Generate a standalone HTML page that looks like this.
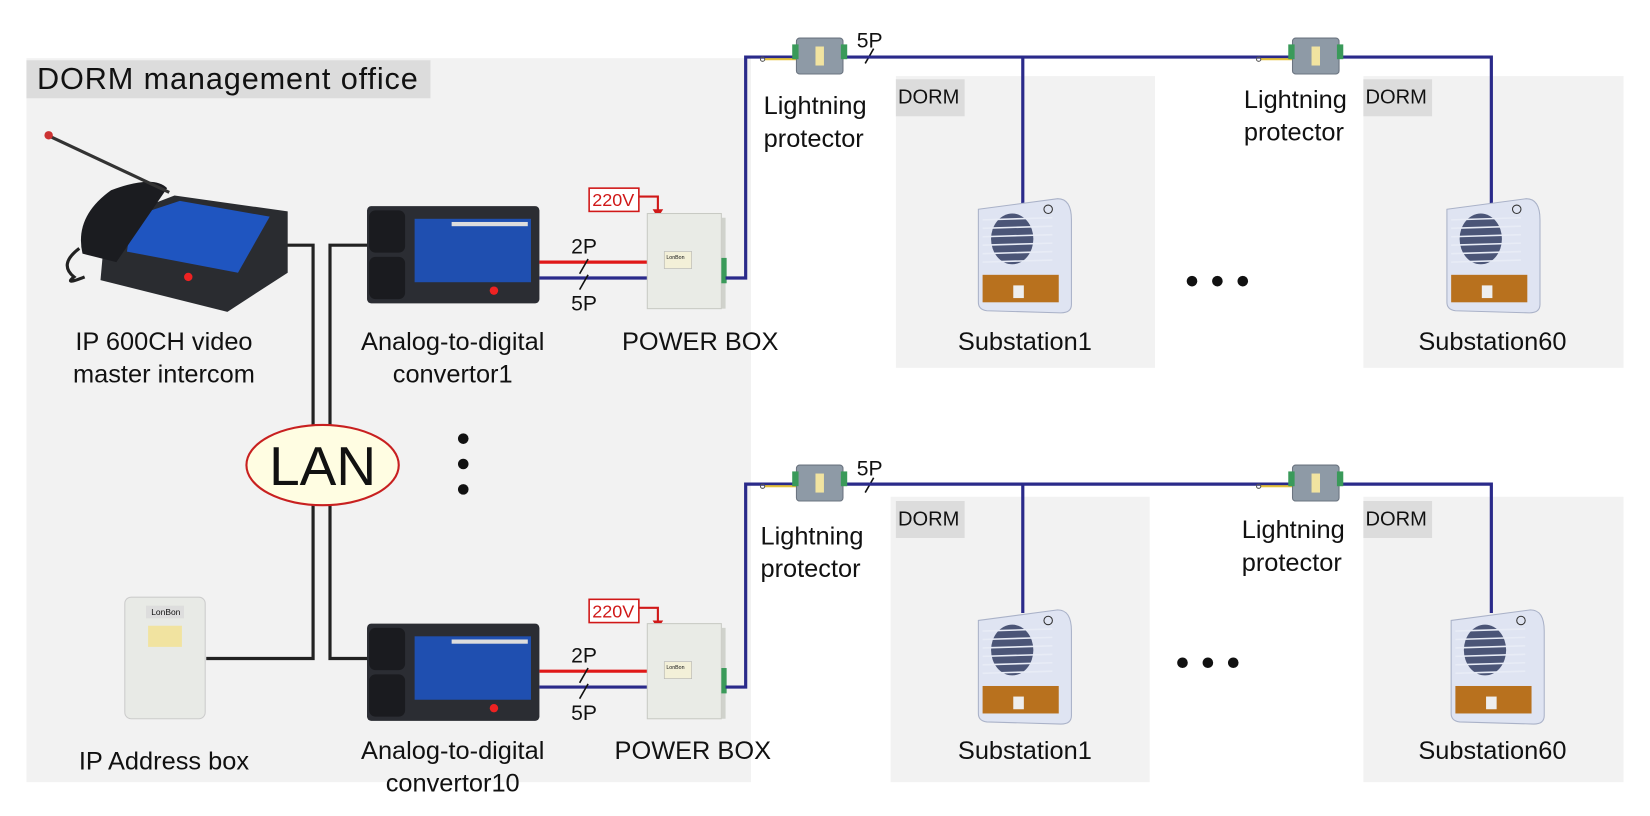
<!DOCTYPE html>
<html><head><meta charset="utf-8"><style>
html,body{margin:0;padding:0;background:#fff;}
svg{display:block;}
text{font-family:"Liberation Sans",Arial,sans-serif;fill:#111;}
</style></head><body>
<svg width="1650" height="816" viewBox="0 0 1560 772" preserveAspectRatio="none" xmlns="http://www.w3.org/2000/svg">
<defs>
<g id="conv">
  <rect x="0" y="0" width="163" height="92" rx="4" fill="#2b2d33"/>
  <rect x="2" y="4" width="34" height="40" rx="6" fill="#1a1b1f"/>
  <rect x="2" y="48" width="34" height="40" rx="6" fill="#1a1b1f"/>
  <rect x="45" y="12" width="110" height="60" fill="#1f4fb0"/>
  <rect x="80" y="15" width="72" height="4" fill="#ddd"/>
  <circle cx="120" cy="80" r="4" fill="#e22"/>
</g>
<g id="pbox">
  <rect x="0" y="0" width="70" height="90" fill="#e9ebe6" stroke="#c8cac4"/>
  <rect x="70" y="4" width="4" height="86" fill="#d0d2cc"/>
  <rect x="16" y="36" width="26" height="16" fill="#f3f0d8" stroke="#aaa" stroke-width="0.5"/>
  <text x="18" y="43" font-size="5">LonBon</text>
  <rect x="70" y="42" width="5" height="24" fill="#3a9a5a"/>
</g>
<g id="lp">
  <rect x="-30" y="-1" width="30" height="2" fill="#e6c23a"/>
  <circle cx="-32" cy="0" r="2" fill="none" stroke="#555"/>
  <rect x="0" y="-20" width="44" height="34" rx="3" fill="#8e9aa6" stroke="#6b7480"/>
  <rect x="-4" y="-14" width="6" height="14" fill="#3a9a5a"/>
  <rect x="42" y="-14" width="6" height="14" fill="#3a9a5a"/>
  <rect x="18" y="-12" width="8" height="18" fill="#f1e3a0"/>
</g>
<g id="sub">
  <path d="M0 10 L75 0 Q88 0 88 20 L88 100 Q88 108 78 108 L8 106 Q0 105 0 98 Z" fill="#dfe4f2" stroke="#aab2c8"/>
  <ellipse cx="32" cy="38" rx="20" ry="24" fill="#4b5577"/>
  <g stroke="#e8ecf6" stroke-width="1.5">
   <line x1="4" y1="20" x2="70" y2="18"/><line x1="4" y1="28" x2="70" y2="26"/><line x1="4" y1="36" x2="70" y2="34"/><line x1="4" y1="44" x2="70" y2="42"/><line x1="4" y1="52" x2="70" y2="50"/><line x1="4" y1="60" x2="70" y2="58"/>
  </g>
  <rect x="4" y="72" width="72" height="26" fill="#b8711e"/>
  <rect x="33" y="82" width="10" height="12" fill="#eee"/>
  <circle cx="66" cy="10" r="4" fill="none" stroke="#333"/>
</g>
</defs>

<rect x="25" y="55" width="685" height="685" fill="#f2f2f2"/>
<rect x="25" y="57" width="382" height="36" fill="#dcdcdc"/>
<text x="35" y="84" font-size="29" textLength="360">DORM management office</text>

<rect x="847" y="72" width="245" height="276" fill="#f2f2f2"/>
<rect x="1289" y="72" width="246" height="276" fill="#f2f2f2"/>
<rect x="842" y="470" width="245" height="270" fill="#f2f2f2"/>
<rect x="1289" y="470" width="246" height="270" fill="#f2f2f2"/>
<g font-size="19">
<rect x="847" y="75" width="65" height="35" fill="#dcdcdc"/><text x="849" y="98">DORM</text>
<rect x="1289" y="75" width="65" height="35" fill="#dcdcdc"/><text x="1291" y="98">DORM</text>
<rect x="847" y="474" width="65" height="35" fill="#dcdcdc"/><text x="849" y="497">DORM</text>
<rect x="1289" y="474" width="65" height="35" fill="#dcdcdc"/><text x="1291" y="497">DORM</text>
</g>

<g stroke="#222" stroke-width="3" fill="none">
<polyline points="270,232 296,232 296,623 195,623"/>
<polyline points="350,232 312,232 312,623 350,623"/>
</g>
<ellipse cx="305" cy="440" rx="72" ry="38" fill="#fffde2" stroke="#c82020" stroke-width="2"/>
<text x="305" y="459" font-size="52" text-anchor="middle">LAN</text>
<circle cx="438" cy="415" r="5" fill="#111"/><circle cx="438" cy="439" r="5" fill="#111"/><circle cx="438" cy="463" r="5" fill="#111"/>

<!-- master intercom -->
<path d="M100 210 L165 185 L272 200 L272 258 L215 295 L95 265 Z" fill="#2a2c30"/>
<path d="M125 205 L170 190 L255 205 L225 258 L120 238 Z" fill="#1f55c0"/>
<path d="M78 240 Q70 205 105 180 Q145 165 158 178 L110 248 Z" fill="#1b1c20"/>
<path d="M75 235 Q55 250 70 262 Q60 270 80 262" fill="none" stroke="#222" stroke-width="3"/>
<line x1="45" y1="128" x2="160" y2="182" stroke="#333" stroke-width="3"/>
<circle cx="46" cy="128" r="4" fill="#c33"/>
<circle cx="178" cy="262" r="4" fill="#e22"/>
<text x="155" y="331" font-size="24" text-anchor="middle">IP 600CH video</text>
<text x="155" y="362" font-size="24" text-anchor="middle">master intercom</text>

<rect x="118" y="565" width="76" height="115" rx="6" fill="#e8eae6" stroke="#ccc"/>
<rect x="138" y="573" width="36" height="12" fill="#ddd"/>
<text x="143" y="582" font-size="8">LonBon</text>
<rect x="140" y="592" width="32" height="20" fill="#f1e3a0"/>
<text x="155" y="728" font-size="24" text-anchor="middle">IP Address box</text>

<use href="#conv" x="347" y="195"/>
<use href="#conv" x="347" y="590"/>
<text x="428" y="331" font-size="24" text-anchor="middle">Analog-to-digital</text>
<text x="428" y="362" font-size="24" text-anchor="middle">convertor1</text>
<text x="428" y="718" font-size="24" text-anchor="middle">Analog-to-digital</text>
<text x="428" y="749" font-size="24" text-anchor="middle">convertor10</text>

<g stroke-width="3" fill="none">
<line x1="510" y1="248" x2="612" y2="248" stroke="#e01818"/>
<line x1="510" y1="263" x2="612" y2="263" stroke="#2a2a8a"/>
<line x1="510" y1="635" x2="612" y2="635" stroke="#e01818"/>
<line x1="510" y1="650" x2="612" y2="650" stroke="#2a2a8a"/>
</g>
<g stroke="#111" stroke-width="1.5">
<line x1="548" y1="259" x2="556" y2="245"/><line x1="548" y1="274" x2="556" y2="260"/>
<line x1="548" y1="646" x2="556" y2="632"/><line x1="548" y1="661" x2="556" y2="647"/>
<line x1="818" y1="60" x2="826" y2="46"/><line x1="818" y1="466" x2="826" y2="452"/>
</g>
<g font-size="20">
<text x="540" y="240">2P</text><text x="540" y="294">5P</text>
<text x="540" y="627">2P</text><text x="540" y="681">5P</text>
<text x="810" y="45">5P</text><text x="810" y="450">5P</text>
</g>
<g>
<rect x="557" y="178" width="47" height="22" fill="#fff" stroke="#d01818" stroke-width="1.5"/>
<text x="560" y="195" font-size="17" style="fill:#d01818">220V</text>
<polyline points="604,186 622,186 622,200" fill="none" stroke="#d01818" stroke-width="2"/>
<polygon points="617,198 627,198 622,206" fill="#d01818"/>
<rect x="557" y="567" width="47" height="22" fill="#fff" stroke="#d01818" stroke-width="1.5"/>
<text x="560" y="584" font-size="17" style="fill:#d01818">220V</text>
<polyline points="604,575 622,575 622,589" fill="none" stroke="#d01818" stroke-width="2"/>
<polygon points="617,587 627,587 622,595" fill="#d01818"/>
</g>
<use href="#pbox" x="612" y="202"/>
<use href="#pbox" x="612" y="590"/>
<text x="662" y="331" font-size="24" text-anchor="middle">POWER BOX</text>
<text x="655" y="718" font-size="24" text-anchor="middle">POWER BOX</text>

<g stroke="#2a2a8a" stroke-width="3" fill="none">
<polyline points="686,263 705,263 705,54 1410,54 1410,192"/>
<line x1="967" y1="54" x2="967" y2="192"/>
<polyline points="686,650 705,650 705,458 1410,458 1410,580"/>
<line x1="967" y1="458" x2="967" y2="580"/>
</g>
<use href="#lp" x="753" y="56"/>
<use href="#lp" x="1222" y="56"/>
<use href="#lp" x="753" y="460"/>
<use href="#lp" x="1222" y="460"/>
<g font-size="24">
<text x="722" y="108">Lightning</text><text x="722" y="139">protector</text>
<text x="1176" y="102">Lightning</text><text x="1176" y="133">protector</text>
<text x="719" y="515">Lightning</text><text x="719" y="546">protector</text>
<text x="1174" y="509">Lightning</text><text x="1174" y="540">protector</text>
</g>

<use href="#sub" x="925" y="188"/>
<use href="#sub" x="1368" y="188"/>
<use href="#sub" x="925" y="577"/>
<use href="#sub" x="1372" y="577"/>
<g font-size="24" text-anchor="middle">
<text x="969" y="331">Substation1</text><text x="1411" y="331">Substation60</text>
<text x="969" y="718">Substation1</text><text x="1411" y="718">Substation60</text>
</g>
<g fill="#111">
<circle cx="1127" cy="266" r="5"/><circle cx="1151" cy="266" r="5"/><circle cx="1175" cy="266" r="5"/>
<circle cx="1118" cy="627" r="5"/><circle cx="1142" cy="627" r="5"/><circle cx="1166" cy="627" r="5"/>
</g>
</svg>
</body></html>
